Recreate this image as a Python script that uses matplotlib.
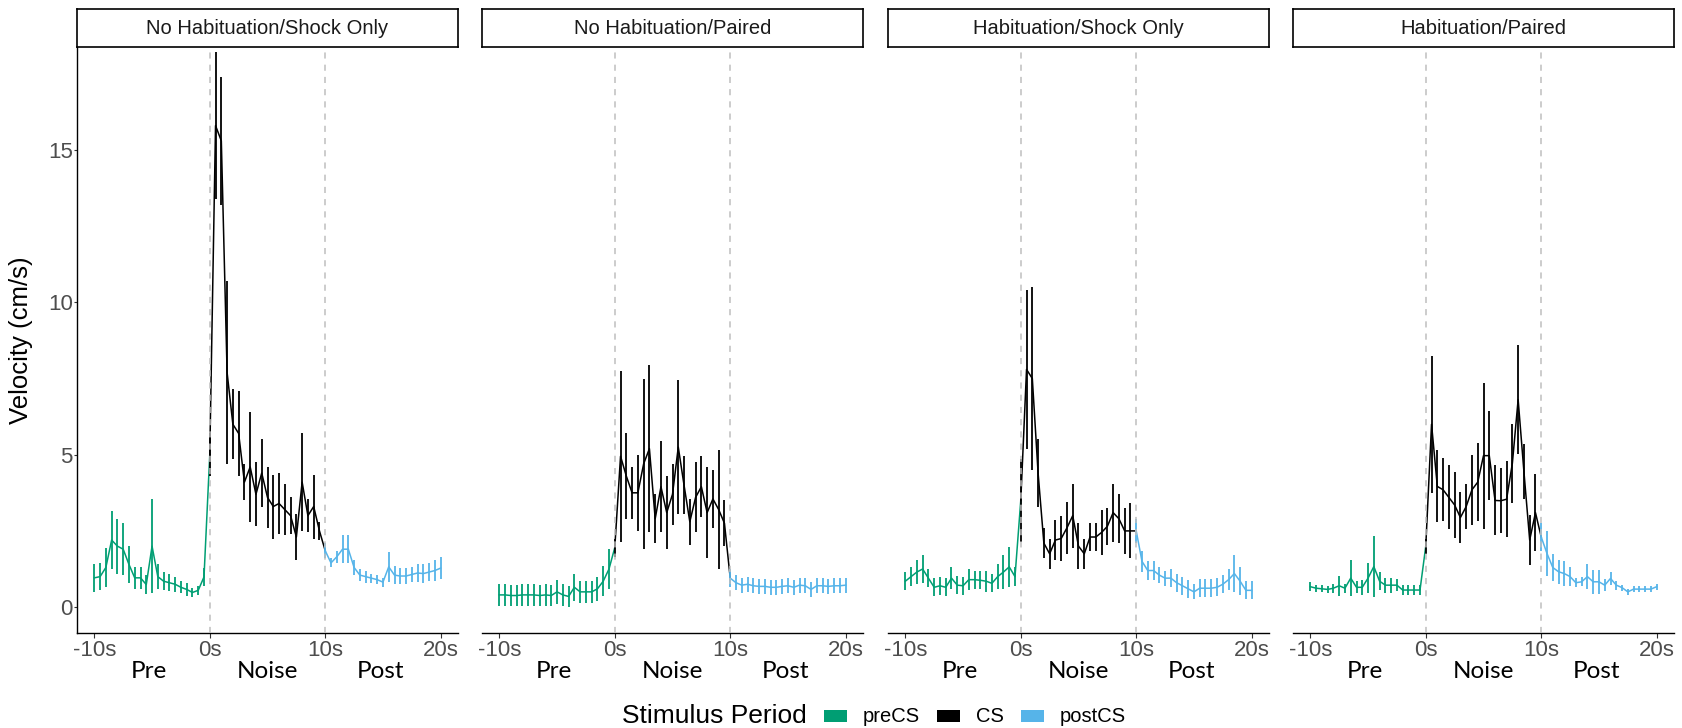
import numpy as np
import matplotlib.pyplot as plt
from matplotlib.patches import Rectangle
from matplotlib.transforms import blended_transform_factory

# time bins, 0.5 s
t_pre = np.arange(-10, 0, 0.5)
t_cs = np.arange(0, 10, 0.5)
t_post = np.arange(10, 20.5, 0.5)

panel_titles = ["No Habituation/Shock Only", "No Habituation/Paired",
                "Habituation/Shock Only", "Habituation/Paired"]
period_names = ["preCS", "CS", "postCS"]
period_colors = ["#009E73", "#000000", "#56B4E9"]
x_ticks = [-10, 0, 10, 20]
x_ticklabels = ["-10s", "0s", "10s", "20s"]
y_ticks = [0, 5, 10, 15]
phase_labels = ["Pre", "Noise", "Post"]
phase_x = [-5.3, 5.0, 14.8]

# No Habituation / Shock Only
nhs_pre = [0.96, 1.0, 1.3, 2.2, 2.0, 1.9, 1.4, 0.96, 0.96, 0.74,
           2.0, 1.0, 0.85, 0.8, 0.75, 0.65, 0.58, 0.48, 0.55, 0.99]
nhs_pre_se = [0.47, 0.45, 0.65, 0.95, 0.9, 0.85, 0.6, 0.35, 0.35, 0.3,
              1.55, 0.4, 0.3, 0.28, 0.25, 0.2, 0.2, 0.15, 0.15, 0.3]
nhs_cs = [5.0, 15.8, 15.3, 7.7, 6.0, 5.7, 4.1, 4.6, 3.7, 4.4,
          3.6, 3.3, 3.4, 3.2, 3.0, 2.3, 4.1, 3.0, 3.3, 2.5]
nhs_cs_se = [0.7, 2.4, 2.1, 3.0, 1.15, 1.4, 0.6, 1.8, 1.05, 1.1,
             1.0, 1.05, 1.0, 0.85, 0.6, 0.75, 1.6, 0.55, 1.05, 0.3]
nhs_post = [1.85, 1.45, 1.65, 1.9, 1.9, 1.3, 1.05, 1.0, 0.95, 0.9, 0.82,
            1.32, 1.05, 1.02, 1.02, 1.07, 1.12, 1.1, 1.15, 1.2, 1.28]
nhs_post_se = [0.25, 0.15, 0.2, 0.45, 0.45, 0.25, 0.2, 0.2, 0.15, 0.15, 0.15,
               0.5, 0.3, 0.25, 0.25, 0.25, 0.3, 0.3, 0.3, 0.35, 0.35]

# No Habituation / Paired
nhp_pre = [0.4, 0.4, 0.38, 0.38, 0.4, 0.4, 0.4, 0.38, 0.4, 0.38,
           0.5, 0.4, 0.35, 0.65, 0.5, 0.5, 0.5, 0.6, 0.85, 1.25]
nhp_pre_se = [0.35, 0.35, 0.35, 0.35, 0.35, 0.35, 0.35, 0.35, 0.35, 0.35,
              0.4, 0.35, 0.35, 0.45, 0.35, 0.35, 0.35, 0.4, 0.5, 0.65]
nhp_cs = [1.95, 4.95, 4.3, 3.75, 3.75, 4.7, 5.2, 2.9, 3.95, 3.1,
          3.7, 5.25, 4.0, 2.8, 3.6, 3.95, 3.1, 3.55, 3.2, 2.75]
nhp_cs_se = [0.3, 2.8, 1.4, 0.85, 1.25, 2.8, 2.75, 0.8, 1.5, 1.2,
             1.0, 2.2, 0.95, 0.75, 1.15, 1.0, 1.5, 0.95, 1.95, 0.75]
nhp_post = [0.95, 0.8, 0.72, 0.75, 0.7, 0.68, 0.68, 0.65, 0.65, 0.68, 0.7,
            0.65, 0.72, 0.7, 0.58, 0.7, 0.7, 0.68, 0.7, 0.7, 0.72]
nhp_post_se = [0.3, 0.25, 0.25, 0.25, 0.25, 0.25, 0.25, 0.25, 0.25, 0.25, 0.25,
               0.25, 0.25, 0.25, 0.25, 0.25, 0.25, 0.25, 0.25, 0.25, 0.25]

# Habituation / Shock Only
hs_pre = [0.85, 1.0, 1.15, 1.25, 0.95, 0.65, 0.7, 0.65, 0.95, 0.72,
          0.7, 0.9, 0.9, 0.88, 0.85, 0.78, 1.0, 1.15, 1.32, 1.0]
hs_pre_se = [0.3, 0.3, 0.4, 0.45, 0.3, 0.3, 0.3, 0.3, 0.35, 0.3,
             0.3, 0.35, 0.3, 0.3, 0.35, 0.3, 0.4, 0.55, 0.65, 0.3]
hs_cs = [3.5, 7.8, 7.5, 4.4, 2.1, 1.75, 2.2, 2.25, 2.6, 3.0,
         2.0, 1.75, 2.3, 2.3, 2.45, 2.65, 3.1, 2.9, 2.5, 2.5]
hs_cs_se = [1.35, 2.6, 3.0, 1.1, 0.5, 0.5, 0.65, 0.75, 0.85, 1.05,
            0.75, 0.5, 0.45, 0.45, 0.75, 0.6, 0.95, 0.8, 0.75, 0.9]
hs_post = [2.5, 1.5, 1.2, 1.2, 1.05, 0.95, 0.95, 0.8, 0.7, 0.6, 0.5,
           0.62, 0.62, 0.62, 0.65, 0.75, 0.9, 1.1, 0.85, 0.55, 0.55]
hs_post_se = [0.4, 0.35, 0.3, 0.3, 0.25, 0.25, 0.3, 0.3, 0.3, 0.3, 0.25,
              0.3, 0.3, 0.3, 0.3, 0.3, 0.35, 0.6, 0.45, 0.3, 0.3]

# Habituation / Paired
hp_pre = [0.67, 0.62, 0.6, 0.58, 0.62, 0.7, 0.62, 0.95, 0.65, 0.65,
          0.95, 1.33, 0.85, 0.72, 0.72, 0.72, 0.56, 0.56, 0.56, 0.56]
hp_pre_se = [0.15, 0.12, 0.12, 0.12, 0.15, 0.33, 0.15, 0.58, 0.2, 0.25,
             0.5, 1.0, 0.3, 0.25, 0.25, 0.2, 0.15, 0.15, 0.15, 0.15]
hp_cs = [2.0, 6.0, 3.96, 3.85, 3.6, 3.35, 2.94, 3.3, 3.85, 4.1,
         4.97, 4.97, 3.5, 3.49, 3.54, 4.72, 6.81, 4.45, 2.2, 3.1]
hp_cs_se = [0.25, 2.25, 1.18, 1.04, 1.05, 1.08, 0.85, 0.74, 1.15, 1.29,
            2.4, 1.46, 1.15, 1.07, 1.24, 1.29, 1.79, 0.9, 0.82, 1.26]
hp_post = [2.3, 1.76, 1.3, 1.16, 1.1, 1.0, 0.8, 0.83, 1.0, 0.83, 0.83,
           0.72, 0.94, 0.72, 0.64, 0.5, 0.59, 0.59, 0.59, 0.59, 0.67]
hp_post_se = [0.45, 0.75, 0.45, 0.4, 0.4, 0.3, 0.15, 0.15, 0.4, 0.4, 0.4,
              0.2, 0.2, 0.15, 0.1, 0.1, 0.1, 0.1, 0.1, 0.1, 0.1]

panels = [
    (nhs_pre, nhs_pre_se, nhs_cs, nhs_cs_se, nhs_post, nhs_post_se),
    (nhp_pre, nhp_pre_se, nhp_cs, nhp_cs_se, nhp_post, nhp_post_se),
    (hs_pre, hs_pre_se, hs_cs, hs_cs_se, hs_post, hs_post_se),
    (hp_pre, hp_pre_se, hp_cs, hp_cs_se, hp_post, hp_post_se),
]

plt.rcParams['font.family'] = ['Liberation Sans', 'DejaVu Sans']

W, H = 1682, 728
fig = plt.figure(figsize=(W / 100, H / 100), dpi=100)

panel_left = [77, 482, 888, 1293]
panel_w = 381
ax_top, ax_bot = 47, 633
strip_top = 9
green, black, blue = period_colors

for i, (pre, pre_se, cs, cs_se, post, post_se) in enumerate(panels):
    x0 = panel_left[i] / W
    ax = fig.add_axes([x0, 1 - ax_bot / H, panel_w / W, (ax_bot - ax_top) / H])

    # each line segment takes the colour of the point it starts from
    ax.plot(np.append(t_pre, t_cs[0]), np.append(pre, cs[0]), color=green, lw=1.1, zorder=2)
    ax.plot(np.append(t_cs, t_post[0]), np.append(cs, post[0]), color=black, lw=1.1, zorder=2)
    ax.plot(t_post, post, color=blue, lw=1.1, zorder=2)
    ax.errorbar(t_pre, pre, yerr=pre_se, fmt='none', ecolor=green, elinewidth=1.3, capsize=0, zorder=2)
    ax.errorbar(t_cs, cs, yerr=cs_se, fmt='none', ecolor=black, elinewidth=1.3, capsize=0, zorder=2)
    ax.errorbar(t_post, post, yerr=post_se, fmt='none', ecolor=blue, elinewidth=1.3, capsize=0, zorder=2)

    for xv in (0, 10):
        ax.axvline(xv, color='#BEBEBE', lw=1.1, ls=(0, (4, 4)), zorder=3)

    ax.set_xlim(-11.5, 21.5)
    ax.set_ylim(-0.85, 18.38)
    ax.set_xticks(x_ticks)
    ax.set_xticklabels(x_ticklabels)
    ax.spines['top'].set_visible(False)
    ax.spines['right'].set_visible(False)
    ax.spines['bottom'].set_linewidth(1.0)
    ax.tick_params(axis='x', length=3.5, width=0.8, color='#333333',
                   labelcolor='#4D4D4D', labelsize=16, pad=1.5)
    if i == 0:
        ax.spines['left'].set_linewidth(1.0)
        ax.set_yticks(y_ticks)
        ax.tick_params(axis='y', length=2.5, width=0.8, color='#333333',
                       labelcolor='#4D4D4D', labelsize=16, pad=0.5)
        ax.set_ylabel("Velocity (cm/s)", fontsize=18.5)
        ax.yaxis.set_label_coords((33 - 77) / panel_w, 0.5)
    else:
        ax.spines['left'].set_visible(False)
        ax.set_yticks([])

    # facet strip
    sax = fig.add_axes([x0, 1 - ax_top / H, panel_w / W, (ax_top - strip_top) / H])
    sax.set_xticks([])
    sax.set_yticks([])
    for sp in sax.spines.values():
        sp.set_linewidth(1.2)
        sp.set_color('black')
    sax.text(0.5, 0.5, panel_titles[i], ha='center', va='center', fontsize=14.5,
             color='#1A1A1A', transform=sax.transAxes)

    # phase labels under the x axis
    tr = blended_transform_factory(ax.transData, fig.transFigure)
    for lab, xp in zip(phase_labels, phase_x):
        ax.text(xp, 1 - 672 / H, lab, transform=tr, ha='center', va='center',
                fontsize=17.5, family=['Lato', 'DejaVu Sans'], color='black')

# legend at the bottom
leg_y = 1 - 716 / H
fig.text(622 / W, leg_y, "Stimulus Period", ha='left', va='center', fontsize=19)
key_x = [824, 937, 1021]
for kx, name, col in zip(key_x, period_names, period_colors):
    fig.patches.append(Rectangle((kx / W, leg_y - 6 / H), 23 / W, 12 / H,
                                 transform=fig.transFigure, facecolor=col,
                                 edgecolor='none'))
    fig.text((kx + 39) / W, leg_y, name, ha='left', va='center', fontsize=14.5)

fig.savefig("out.png", dpi=100)
